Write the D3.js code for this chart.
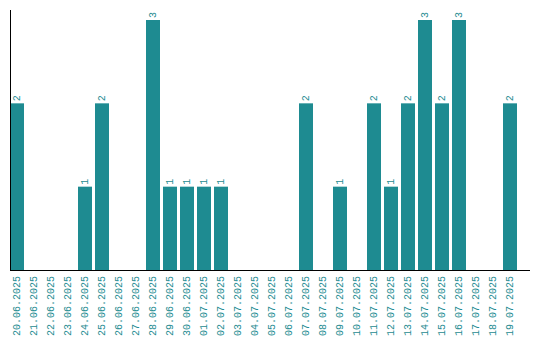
<!DOCTYPE html>
<html lang="en">
<head>
    <meta charset="UTF-8">
    <title>Daily count</title>
    <script src="https://d3js.org/d3.v7.min.js"></script>
    <style>
        body { margin: 0; background: #fff; }
        text { font-family: 'Liberation Mono', monospace; fill: #1e8b91; }
    </style>
</head>
<body>
<svg width="540" height="340"></svg>
<script>
const dates = ['20.06.2025', '21.06.2025', '22.06.2025', '23.06.2025', '24.06.2025', '25.06.2025',
    '26.06.2025', '27.06.2025', '28.06.2025', '29.06.2025', '30.06.2025', '01.07.2025',
    '02.07.2025', '03.07.2025', '04.07.2025', '05.07.2025', '06.07.2025', '07.07.2025',
    '08.07.2025', '09.07.2025', '10.07.2025', '11.07.2025', '12.07.2025', '13.07.2025',
    '14.07.2025', '15.07.2025', '16.07.2025', '17.07.2025', '18.07.2025', '19.07.2025'];
const counts = [2, 0, 0, 0, 1, 2, 0, 0, 3, 1, 1, 1, 1, 0, 0, 0, 0, 2, 0, 1, 0, 2, 1, 2, 3, 2, 3, 0, 0, 2];

const plotLeft = 10, plotRight = 530, plotTop = 10, plotBase = 270;
const color = '#1e8b91';

const svg = d3.select('svg');

const x = d3.scaleBand()
    .domain(dates)
    .range([plotLeft, 517])
    .paddingInner(3 / 17)
    .paddingOuter(0);

const y = d3.scaleLinear()
    .domain([0, 3])
    .range([plotBase, 20]);

const data = dates.map((d, i) => ({date: d, value: counts[i]}));

svg.append('g')
    .selectAll('rect')
    .data(data.filter(d => d.value > 0))
    .join('rect')
    .attr('x', d => x(d.date))
    .attr('y', d => y(d.value))
    .attr('width', x.bandwidth())
    .attr('height', d => y(0) - y(d.value))
    .attr('fill', color);

// value labels above bars
svg.append('g')
    .selectAll('text')
    .data(data.filter(d => d.value > 0))
    .join('text')
    .attr('transform', d => `translate(${x(d.date) + x.bandwidth() / 2}, ${y(d.value) - 2}) rotate(-90)`)
    .attr('dominant-baseline', 'middle')
    .style('font-size', '10px')
    .text(d => d.value);

// x tick labels
svg.append('g')
    .selectAll('text')
    .data(dates)
    .join('text')
    .attr('transform', d => `translate(${x(d) + x.bandwidth() / 2}, ${plotBase + 6}) rotate(-90)`)
    .attr('text-anchor', 'end')
    .attr('dominant-baseline', 'middle')
    .style('font-size', '10px')
    .text(d => d);

// axis lines
svg.append('line')
    .attr('x1', plotLeft + 0.5).attr('x2', plotLeft + 0.5)
    .attr('y1', plotTop).attr('y2', plotBase)
    .attr('stroke', '#000');
svg.append('line')
    .attr('x1', plotLeft).attr('x2', plotRight)
    .attr('y1', plotBase + 0.5).attr('y2', plotBase + 0.5)
    .attr('stroke', '#000');
</script>
</body>
</html>
